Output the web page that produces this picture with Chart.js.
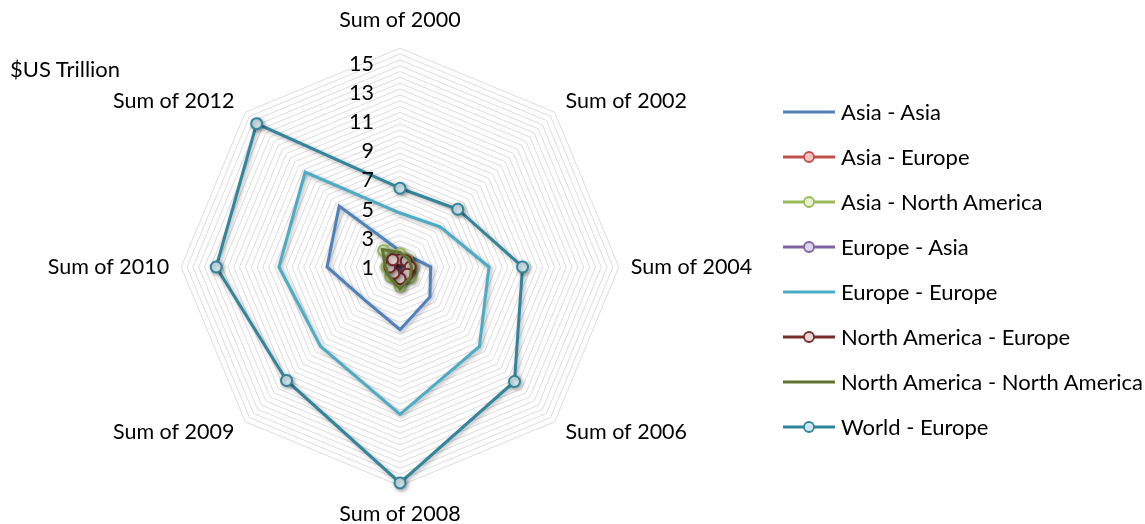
<!DOCTYPE html>
<html>
<head>
<meta charset="utf-8">
<script src="https://cdn.jsdelivr.net/npm/chart.js@4.4.1/dist/chart.umd.min.js"></script>
<style>
    body { margin: 0; background: #fff; font-family: Lato, sans-serif; overflow: hidden; }
    #contenedor { position: relative; width: 1145px; height: 524px; overflow: hidden; }
    #grafico { position: absolute; left: 0; top: 4px; }
    #unidad { position: absolute; left: 10px; top: 55px; font-size: 22px; color: #000; }
    #leyenda { position: absolute; left: 783px; top: 89px; font-size: 22px; color: #000; }
    .item { height: 45px; display: flex; align-items: center; white-space: nowrap; }
    .item svg { margin-right: 6px; }
</style>
</head>
<body>
<div id="contenedor">
    <canvas id="grafico" width="800" height="524"></canvas>
    <div id="unidad">$US Trillion</div>
    <div id="leyenda"></div>
</div>
<script>
const categorias = ['Sum of 2000', 'Sum of 2002', 'Sum of 2004', 'Sum of 2006', 'Sum of 2008', 'Sum of 2009', 'Sum of 2010', 'Sum of 2012'];

const asiaAsia = [2.1, 2.0, 3.1, 3.9, 5.3, 4.3, 6.0, 6.9];
const asiaEuropa = [1.5, 1.5, 1.6, 1.7, 1.8, 1.6, 1.6, 1.7];
const asiaNorteamerica = [1.9, 1.7, 1.8, 2.0, 2.3, 1.9, 1.9, 2.6];
const europaAsia = [1.4, 1.4, 1.5, 1.5, 1.6, 1.5, 1.6, 1.7];
const europaEuropa = [4.7, 4.9, 7.1, 8.7, 11.1, 8.7, 9.3, 10.2];
const norteamericaEuropa = [1.5, 1.6, 1.7, 1.7, 1.8, 1.6, 1.7, 1.7];
const norteamericaNorteamerica = [2.0, 1.8, 1.8, 2.0, 2.5, 2.0, 2.0, 2.7];
const mundoEuropa = [6.4, 6.6, 9.4, 12.1, 15.8, 12.0, 13.6, 14.9];

const marcasEje = [1, 3, 5, 7, 9, 11, 13, 15];

const series = [
    { nombre: 'Asia - Asia', datos: asiaAsia, color: '#4F81BD', relleno: null },
    { nombre: 'Asia - Europe', datos: asiaEuropa, color: '#C0504D', relleno: '#F4C2C1' },
    { nombre: 'Asia - North America', datos: asiaNorteamerica, color: '#9BBB59', relleno: '#E4F0D0' },
    { nombre: 'Europe - Asia', datos: europaAsia, color: '#8064A2', relleno: '#DDD5EA' },
    { nombre: 'Europe - Europe', datos: europaEuropa, color: '#4BACC6', relleno: null },
    { nombre: 'North America - Europe', datos: norteamericaEuropa, color: '#772C2A', relleno: '#E8D6D6' },
    { nombre: 'North America - North America', datos: norteamericaNorteamerica, color: '#5F7530', relleno: null },
    { nombre: 'World - Europe', datos: mundoEuropa, color: '#31859C', relleno: '#D3E8EE' }
];

let esMayor = (v) => Math.abs(v - Math.round(v)) < 1e-6 && marcasEje.includes(Math.round(v));

const sombra = {
    id: 'sombra',
    beforeDatasetDraw(chart) {
        let ctx = chart.ctx;
        ctx.save();
        ctx.shadowColor = 'rgba(0,0,0,0.35)';
        ctx.shadowBlur = 4;
        ctx.shadowOffsetX = 1.5;
        ctx.shadowOffsetY = 1.5;
    },
    afterDatasetDraw(chart) {
        chart.ctx.restore();
    }
};

// etiquetas del eje y de las categorias dibujadas a mano (estilo Excel)
const etiquetas = {
    id: 'etiquetas',
    afterDatasetsDraw(chart) {
        let escala = chart.scales.r;
        let ctx = chart.ctx;
        let radio = escala.drawingArea;
        ctx.save();
        ctx.font = '21.5px Lato';
        ctx.fillStyle = '#000';
        ctx.textBaseline = 'middle';
        ctx.textAlign = 'right';
        for (let v of marcasEje) {
            let y = escala.yCenter - escala.getDistanceFromCenterForValue(v);
            ctx.fillText(String(v), escala.xCenter - 26, y + 1);
        }
        categorias.forEach((cat, i) => {
            let angulo = i * 45;
            let pos;
            if (angulo % 90 !== 0) {
                pos = escala.getPointPosition(i, radio * 1.07);
                ctx.textAlign = pos.x > escala.xCenter ? 'left' : 'right';
            } else if (angulo % 180 === 0) {
                pos = escala.getPointPosition(i, radio + 28);
                ctx.textAlign = 'center';
            } else {
                pos = escala.getPointPosition(i, radio + 12);
                ctx.textAlign = pos.x > escala.xCenter ? 'left' : 'right';
            }
            ctx.fillText(cat, pos.x, pos.y);
        });
        ctx.restore();
    }
};

new Chart(document.getElementById('grafico'), {
    type: 'radar',
    data: {
        labels: categorias,
        datasets: series.map((s, i) => ({
            label: s.nombre,
            data: s.datos,
            borderColor: s.color,
            borderWidth: 3,
            backgroundColor: s.relleno || s.color,
            fill: false,
            pointRadius: s.relleno ? 5.5 : 0,
            pointBackgroundColor: s.relleno || s.color,
            pointBorderColor: s.color,
            pointBorderWidth: 2,
            order: series.length - i
        }))
    },
    options: {
        responsive: false,
        animation: false,
        layout: { padding: { top: 6, bottom: 2 } },
        plugins: {
            legend: { display: false },
            tooltip: { enabled: false }
        },
        scales: {
            r: {
                min: 1,
                max: 16,
                angleLines: { display: false },
                grid: {
                    circular: false,
                    lineWidth: 1,
                    color: (c) => esMayor(c.tick.value) ? '#c2c2c2' : '#dcdcdc'
                },
                ticks: { stepSize: 0.4, display: false },
                pointLabels: {
                    padding: 14,
                    color: 'rgba(0,0,0,0)',
                    font: { family: 'Lato', size: 21 }
                }
            }
        }
    },
    plugins: [sombra, etiquetas]
});

let leyendaHTML = '';
for (let s of series) {
    let marca = s.relleno ? `<circle cx="26" cy="8" r="5" fill="${s.relleno}" stroke="${s.color}" stroke-width="1.8"/>` : '';
    leyendaHTML += `
        <div class="item">
            <svg width="52" height="16"><line x1="0" y1="8" x2="52" y2="8" stroke="${s.color}" stroke-width="3"/>${marca}</svg>
            <span>${s.nombre}</span>
        </div>`;
}
document.getElementById('leyenda').innerHTML = leyendaHTML;
</script>
</body>
</html>
